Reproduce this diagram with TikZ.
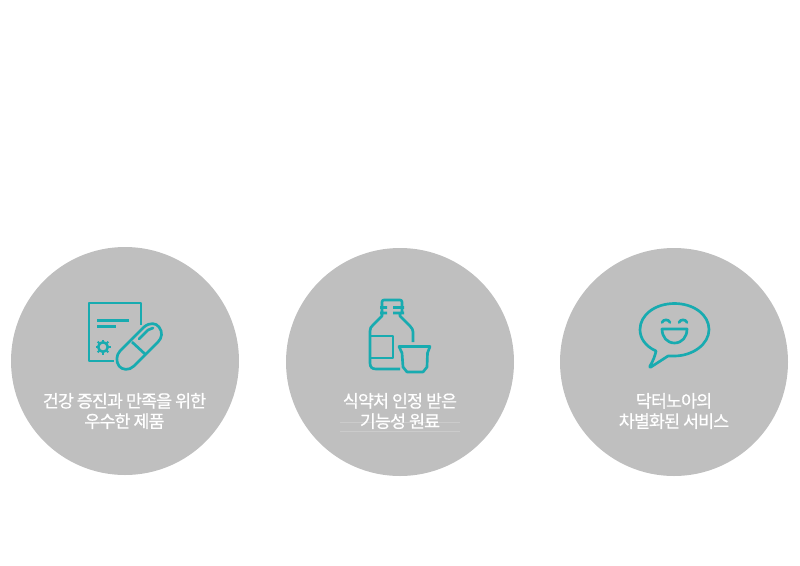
\documentclass[tikz,border=0pt]{standalone}
\usepackage{fontspec}
\newfontfamily\krfont[LetterSpace=-5,FakeBold=0.6]{Noto Sans CJK KR}
\definecolor{teal1}{HTML}{18ABB0}
\definecolor{disc}{HTML}{BFBFBF}
\begin{document}
\begin{tikzpicture}[x=0.75pt,y=-0.75pt,
  discshape/.style={circle,fill=disc,draw=none,minimum size=171pt,inner sep=0pt},
  caption/.style={text=white,align=center,font=\krfont\fontsize{13}{15.2}\selectfont,inner sep=0pt},
  icon/.style={draw=teal1,line width=2pt,line join=round,fill=none},
  hairline/.style={draw=white,draw opacity=0.2,line width=0.5pt}]
\useasboundingbox (0,0) rectangle (800,565);
\node[discshape] (d1) at (125,361) {};
\node[discshape] (d2) at (400,362) {};
\node[discshape] (d3) at (674,362) {};
\draw[hairline] (340,422.5) -- (460,422.5);
\draw[hairline] (340,431.7) -- (460,431.7);
\node[caption] (t1) at (124.5,411) {건강 증진과 만족을 위한\\우수한 제품};
\node[caption] (t2) at (400,411) {식약처 인정 받은\\기능성 원료};
\node[caption] (t3) at (674,411) {닥터노아의\\차별화된 서비스};
% icon 1
\draw[icon] (141,325) -- (141,303) -- (89,303) -- (89,361) -- (114,361);
\draw[icon] (97,320.5) -- (129,320.5);
\draw[icon] (97,326.5) -- (116,326.5);
\draw[icon,line width=1.9pt] (103,347) circle (4.8);
\foreach \a in {0,45,...,315} \draw[icon,line width=1.5pt] (103,347) ++(\a:5.5) -- ++(\a:2);
\draw[icon] (132,342) -- (145,354);
\draw[icon,line cap=round] (139,339) -- (148,330) .. controls (150,328.5) .. (153,328);
\draw[icon] (120,351) -- (144,327) .. controls (150,322) and (156,323) .. (159,327) .. controls (163,332) and (162,338) .. (158,342) -- (134,366) .. controls (129,371) and (122,370) .. (119,366) .. controls (116,362) and (116,355) .. (120,351) -- cycle;
% icon 2
\draw[icon] (400,369) -- (376,369) .. controls (372,369) and (370,367) .. (370,363) -- (370,331) .. controls (370,328) and (371,327) .. (373,325) -- (382,316) -- (382,313) (387,313) -- (380,313) (382,313) -- (382,307.5) (380,307.5) -- (387,307.5) (382,307.5) -- (382,302) .. controls (382,300.5) and (383,300) .. (384,300) -- (400,300) .. controls (401,300) and (402,300.5) .. (402,302) -- (402,307.5) (393,307.5) -- (404,307.5) (402,307.5) -- (402,313) (393,313) -- (404,313) (400,313) -- (400,316) -- (410,326) .. controls (412,328) and (413,330) .. (413,332) -- (413,342);
\draw[icon] (370,336) -- (393,336) -- (393,358) -- (370,358);
\draw[icon] (399,346.5) -- (430,346.5) -- (427.5,353) -- (427,367) -- (423,372) -- (407,372) -- (403,367) -- (402,353) -- cycle;
% icon 3
\draw[icon,line cap=round] (656,351) .. controls (645,346) and (640,338) .. (640,329.5) .. controls (640,315) and (655,303.5) .. (674.5,303.5) .. controls (694,303.5) and (709,315) .. (709,329.5) .. controls (709,344) and (693,356) .. (674,356) .. controls (672,356) and (670,356) .. (668,356) -- (651,367) .. controls (650,367.5) and (649.5,367) .. (650,366) .. controls (653,361) and (655,356) .. (656,351) -- cycle;
\draw[icon,line cap=round] (662,322.5) .. controls (663,319) and (669,319) .. (670,322.5);
\draw[icon,line cap=round] (679,322.5) .. controls (680,319) and (686,319) .. (687,322.5);
\draw[icon] (662,329) -- (687,329) .. controls (687,337) and (682,343) .. (674.5,343) .. controls (667,343) and (662,337) .. (662,329) -- cycle;
\end{tikzpicture}
\end{document}
